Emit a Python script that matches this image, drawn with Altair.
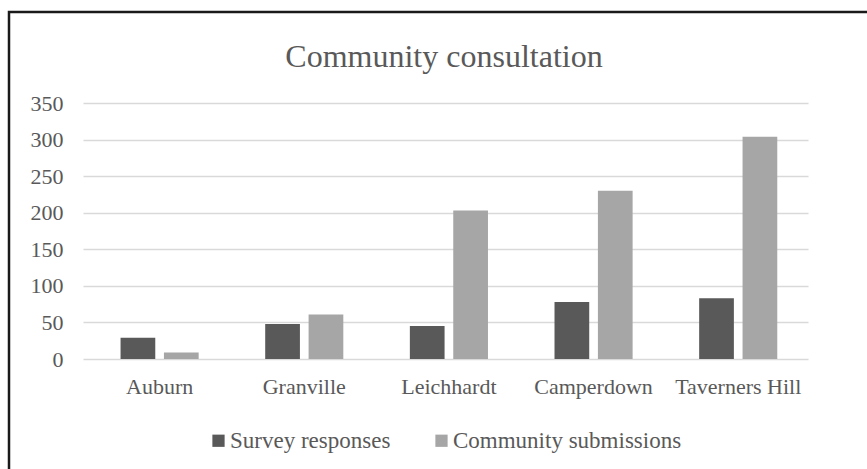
import altair as alt
import pandas as pd

# Consultation counts per suburb
suburbs = ["Auburn", "Granville", "Leichhardt", "Camperdown", "Taverners Hill"]
survey_responses = [29, 48, 45, 78, 83]
community_submissions = [9, 61, 203, 230, 304]
series_names = ["Survey responses", "Community submissions"]
series_colors = ["#595959", "#a6a6a6"]
y_ticks = [0, 50, 100, 150, 200, 250, 300, 350]
chart_title = "Community consultation"

df = pd.DataFrame({
    "suburb": suburbs * 2,
    "series": [series_names[0]] * len(suburbs) + [series_names[1]] * len(suburbs),
    "value": survey_responses + community_submissions,
})

FONT = "Liberation Serif"
TEXT = "#595959"
GRID = "#d9d9d9"

bars = alt.Chart(df).mark_bar().encode(
    x=alt.X(
        "suburb:N",
        sort=suburbs,
        scale=alt.Scale(paddingInner=0.46, paddingOuter=0.236, align=0.55),
        axis=alt.Axis(
            title=None, labelAngle=0, ticks=False, domain=False,
            labelFont=FONT, labelFontSize=22, labelColor=TEXT, labelPadding=17,
        ),
    ),
    xOffset=alt.XOffset(
        "series:N", sort=series_names,
        scale=alt.Scale(paddingInner=0.2, paddingOuter=0),
    ),
    y=alt.Y(
        "value:Q",
        scale=alt.Scale(domain=[0, 350], nice=False),
        axis=alt.Axis(
            title=None, values=y_ticks, ticks=False, domain=False,
            grid=True, gridColor=GRID, gridWidth=1.5,
            labelFont=FONT, labelFontSize=22, labelColor=TEXT, labelPadding=20,
        ),
    ),
    color=alt.Color(
        "series:N",
        sort=series_names,
        scale=alt.Scale(domain=series_names, range=series_colors),
        legend=alt.Legend(
            title=None, orient="none", direction="horizontal",
            legendX=124, legendY=326, padding=0,
            symbolType="square", symbolSize=150, symbolStrokeWidth=0,
            labelFont=FONT, labelFontSize=23, labelColor=TEXT, labelLimit=400,
            labelOffset=0, columnPadding=39,
        ),
    ),
)

# Chart heading, centred over the plot
heading = alt.Chart(pd.DataFrame({"t": [chart_title]})).mark_text(
    font=FONT, fontSize=32, color=TEXT, align="center", baseline="alphabetic"
).encode(
    text="t:N",
    x=alt.value(361),
    y=alt.value(-36),
)

# Outer frame around the chart
frame = alt.Chart(pd.DataFrame({"t": [0]})).mark_rect(
    filled=False, stroke="#1a1a1a", strokeWidth=2.5
).encode(
    x=alt.value(-74), x2=alt.value(820),
    y=alt.value(-91), y2=alt.value(380),
)

chart = alt.layer(bars, heading, frame).properties(
    width=725,
    height=256,
    background="white",
    autosize=alt.AutoSizeParams(type="none"),
    padding={"left": 83, "top": 103, "right": 59, "bottom": 110},
).configure_view(stroke=None)

chart.save("out.html", embed_options={"renderer": "svg", "actions": False})
